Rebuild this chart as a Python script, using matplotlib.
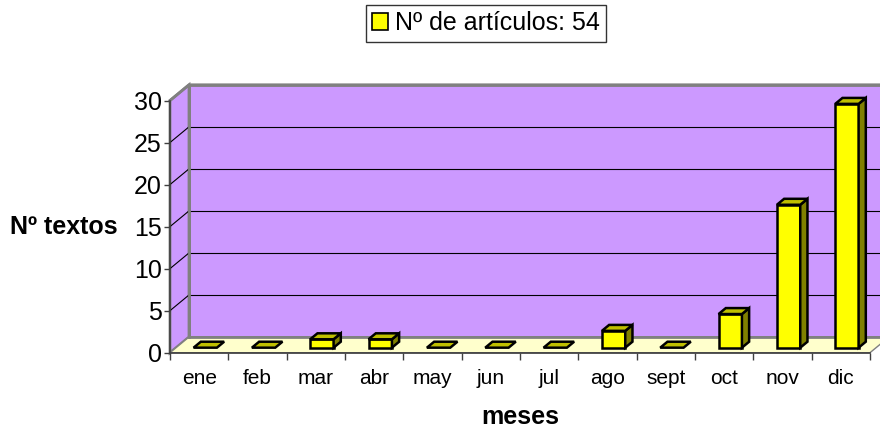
import matplotlib
matplotlib.use("Agg")
import matplotlib.pyplot as plt
from matplotlib.patches import Polygon, Patch
from matplotlib.lines import Line2D

plt.rcParams['font.family'] = ['Liberation Sans', 'DejaVu Sans']

# ---- data ----
categories = ["ene", "feb", "mar", "abr", "may", "jun", "jul", "ago", "sept", "oct", "nov", "dic"]
values = [0, 0, 1, 1, 0, 0, 0, 2, 0, 4, 17, 29]
series_label = "Nº de artículos: 54"
yticks = [0, 5, 10, 15, 20, 25, 30]
ylabel = "Nº textos"
xlabel = "meses"

# ---- style ----
WALL = "#CC99FF"
FLOOR = "#FFFFCC"
EDGE_GRAY = "#808080"
BAR_FRONT = "#FFFF00"
BAR_SIDE = "#808000"
BAR_TOP = "#BFBF00"

W, H = 880, 432
fig = plt.figure(figsize=(W / 100, H / 100), dpi=100)

# front axis frame in pixels
x0, x1 = 170, 870
y0_top, y30_top = 352.7, 100.5
ax = fig.add_axes([x0 / W, (H - y0_top) / H, (x1 - x0) / W, (y0_top - y30_top) / H])
n = len(categories)
ymax = 30
ax.set_xlim(0, n)
ax.set_ylim(0, ymax)
ax.patch.set_visible(False)

# depth offset in data units
px_per_cat = (x1 - x0) / n
px_per_val = (y0_top - y30_top) / ymax
DX = 19 / px_per_cat
DY = 15.7 / px_per_val

def poly(pts, fc, ec, lw, z):
    p = Polygon(pts, closed=True, facecolor=fc, edgecolor=ec, linewidth=lw,
                zorder=z, clip_on=False, joinstyle='miter')
    ax.add_patch(p)

# walls and floor
poly([(DX, DY), (n + DX, DY), (n + DX, ymax + DY), (DX, ymax + DY)], WALL, EDGE_GRAY, 2.0, 1)
poly([(0, 0), (DX, DY), (DX, ymax + DY), (0, ymax)], WALL, EDGE_GRAY, 2.0, 1.1)
poly([(0, 0), (n, 0), (n + DX, DY), (DX, DY)], FLOOR, EDGE_GRAY, 1.0, 1.2)

# gridlines
for v in yticks[1:-1]:
    ax.add_line(Line2D([DX, n + DX], [v + DY, v + DY], color="black", lw=0.8, zorder=2, clip_on=False))
    ax.add_line(Line2D([0, DX], [v, v + DY], color="black", lw=0.8, zorder=2, clip_on=False))
# re-draw back wall borders on top of gridlines
ax.add_line(Line2D([DX, DX], [DY, ymax + DY], color=EDGE_GRAY, lw=2.0, zorder=2.1, clip_on=False))
ax.add_line(Line2D([0, DX, n + DX], [ymax, ymax + DY, ymax + DY], color=EDGE_GRAY, lw=2.0, zorder=2.1, clip_on=False))
ax.add_line(Line2D([DX, n + DX], [DY, DY], color=EDGE_GRAY, lw=2.0, zorder=2.1, clip_on=False))

# bars
a_frac, b_frac = 0.3, 0.7
f0, f1 = 0.32, 0.70
for i, v in enumerate(values):
    a = i + a_frac
    b = i + b_frac
    ox0, oy0 = f0 * DX, f0 * DY
    ox1, oy1 = f1 * DX, f1 * DY
    if v > 0:
        poly([(a + ox0, oy0), (b + ox0, oy0), (b + ox0, v + oy0), (a + ox0, v + oy0)],
             BAR_FRONT, "black", 1.8, 5)
        poly([(b + ox0, oy0), (b + ox1, oy1), (b + ox1, v + oy1), (b + ox0, v + oy0)],
             BAR_SIDE, "black", 1.8, 5)
    poly([(a + ox0, v + oy0), (b + ox0, v + oy0), (b + ox1, v + oy1), (a + ox1, v + oy1)],
         BAR_TOP, "black", 1.8, 5.1)

# axes / ticks
for s in ["top", "right"]:
    ax.spines[s].set_visible(False)
ax.spines["left"].set_color("#404040")
ax.spines["bottom"].set_color("#404040")
ax.spines["left"].set_linewidth(1.2)
ax.spines["bottom"].set_linewidth(1.2)
ax.spines["left"].set_zorder(6)
ax.spines["bottom"].set_zorder(6)

ax.set_yticks(yticks)
ax.set_yticklabels([str(t) for t in yticks], fontsize=18)
ax.tick_params(axis="y", length=4, width=1, color="#404040", pad=2)

ax.set_xticks([i + 0.5 for i in range(n)])
ax.set_xticklabels(categories, fontsize=15)
ax.set_xticks(list(range(n + 1)), minor=True)
ax.tick_params(axis="x", which="major", length=0, pad=12)
ax.tick_params(axis="x", which="minor", length=5, width=1, color="#404040")

fig.text(118 / W, 1 - 233.5 / H, ylabel, ha="right", va="baseline", fontsize=18, fontweight="bold")
fig.text(520 / W, 1 - 424 / H, xlabel, ha="center", va="baseline", fontsize=18, fontweight="bold")

handle = Patch(facecolor=BAR_FRONT, edgecolor="black", linewidth=1.2)
leg = fig.legend([handle], [series_label], loc="upper center",
                 bbox_to_anchor=(486 / W, 1 - 5 / H), fontsize=18,
                 frameon=True, fancybox=False, shadow=False,
                 handlelength=0.62, handleheight=0.66, handletextpad=0.3,
                 borderpad=0.25, borderaxespad=0)
leg.get_frame().set_edgecolor("black")
leg.get_frame().set_linewidth(1.0)

fig.savefig("out.png", dpi=100)
